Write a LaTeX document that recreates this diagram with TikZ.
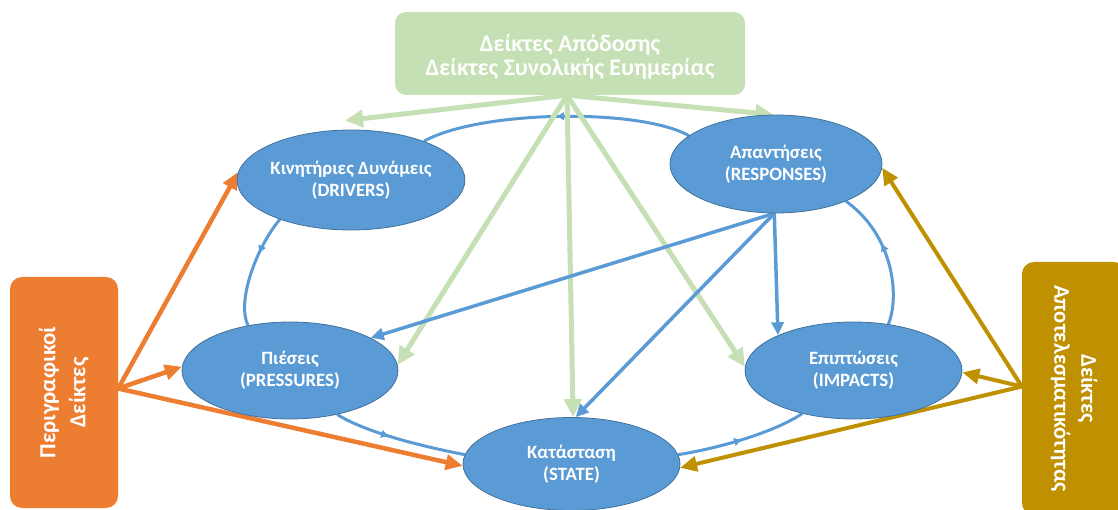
\documentclass[tikz,border=0pt]{standalone}
\usepackage{fontspec}
\newfontfamily\carlito{Carlito Bold}
\usetikzlibrary{shapes.geometric,arrows.meta,decorations.markings}
\definecolor{eblue}{HTML}{5B9BD5}
\definecolor{eborder}{HTML}{41719C}
\definecolor{lgreen}{HTML}{C5E0B4}
\definecolor{ornge}{HTML}{ED7D31}
\definecolor{gold}{HTML}{BF9000}
\pgfdeclarelayer{bg}
\pgfsetlayers{bg,main}
\begin{document}
\begin{tikzpicture}[x=1pt,y=-1pt,
  dpsir/.style={ellipse, fill=eblue, draw=eborder, line width=0.8pt, text=white,
    align=center, inner sep=0pt, font=\carlito\fontsize{18.8}{22}\selectfont},
  gboxst/.style={rectangle, rounded corners=11pt, fill=lgreen, text=white, align=center,
    inner sep=0pt, minimum width=350pt, minimum height=83pt,
    font=\carlito\fontsize{23.8}{27}\selectfont},
  sidebox/.style={rectangle, rounded corners=12pt, text=white, align=center,
    inner sep=0pt},
  cyc/.style={draw=eblue, line width=3pt, postaction={decorate},
    decoration={markings, mark=at position #1 with {\arrow{Latex[length=8pt,width=9pt]}}}},
  garrow/.style={draw=lgreen, line width=5pt, -{Triangle[length=18pt,width=17pt]}},
  barrow/.style={draw=eblue, line width=3.5pt, -{Triangle[length=13pt,width=12pt]}},
  oarrow/.style={draw=ornge, line width=4.5pt, -{Triangle[length=17pt,width=15pt]}},
  yarrow/.style={draw=gold, line width=4pt, -{Triangle[length=17pt,width=15pt]}}
]
\useasboundingbox (0,0) rectangle (1118,510);

% boxes
\node[gboxst, text depth=0pt] (gb) at (570,53.5) {\raisebox{-3pt}{\shortstack{Δείκτες Απόδοσης\\[1pt]Δείκτες Συνολικής Ευημερίας}}};
\node[sidebox, fill=ornge, rotate=90, minimum width=231pt, minimum height=108pt,
  font=\carlito\fontsize{23}{30}\selectfont] (ob) at (64,392.5) {Περιγραφικοί\\Δείκτες};
\node[sidebox, fill=gold, rotate=-90, minimum width=253pt, minimum height=104pt,
  font=\carlito\fontsize{22.5}{27}\selectfont] (yb) at (1074,388.5) {Δείκτες\\Αποτελεσματικότητας};

% DPSIR ellipses
\node[dpsir, minimum width=226pt, minimum height=100pt] (drv) at (351,180) {Κινητήριες Δυνάμεις\\(DRIVERS)};
\node[dpsir, minimum width=212pt, minimum height=98pt] (res) at (776,164) {Απαντήσεις\\(RESPONSES)};
\node[dpsir, minimum width=216pt, minimum height=97pt] (pre) at (290,370.5) {Πιέσεις\\(PRESSURES)};
\node[dpsir, minimum width=217pt, minimum height=97pt] (imp) at (853.5,370.5) {Επιπτώσεις\\(IMPACTS)};
\node[dpsir, minimum width=217pt, minimum height=93pt] (sta) at (571.5,464) {Κατάσταση\\(STATE)};

\begin{pgfonlayer}{bg}
% cycle
\draw[cyc=0.5] (res.162) .. controls (640,108) and (480,110) .. (drv.28);
\draw[cyc=0.35] (drv.209) .. controls (258,245) and (236,300) .. (pre.133);
\draw[cyc=0.42] (pre.-43) .. controls (365,432) and (420,446) .. (sta.175);
\draw[cyc=0.5] (sta.5) .. controls (720,448) and (775,432) .. (imp.220);
\draw[cyc=0.6] (imp.53) .. controls (900,295) and (893,235) .. (res.-28);

% green
\coordinate (g0) at ([xshift=-3pt]gb.south);
\draw[garrow] (g0) -- ([xshift=-6pt,yshift=9pt]drv.north);
\draw[garrow] (g0) -- (res.93);
\draw[garrow] (g0) -- (pre.3);
\draw[garrow] (g0) -- (sta.88);
\draw[garrow] (g0) -- (imp.178);

% blue straight
\coordinate (b0) at (res.268);
\draw[barrow] (b0) -- (pre.22);
\draw[barrow] (b0) -- (sta.85);
\draw[barrow] (b0) -- (imp.155);

% orange
\coordinate (o0) at ([yshift=4pt]ob.south);
\draw[oarrow] (o0) -- (drv.176);
\draw[oarrow] (o0) -- (pre.178);
\draw[oarrow] (o0) -- (sta.181);

% gold
\coordinate (y0) at ([yshift=2pt]yb.south);
\draw[yarrow] (y0) -- (res.-2);
\draw[yarrow] (y0) -- (imp.-1);
\draw[yarrow] (y0) -- (sta.-2);
\end{pgfonlayer}
\end{tikzpicture}
\end{document}
